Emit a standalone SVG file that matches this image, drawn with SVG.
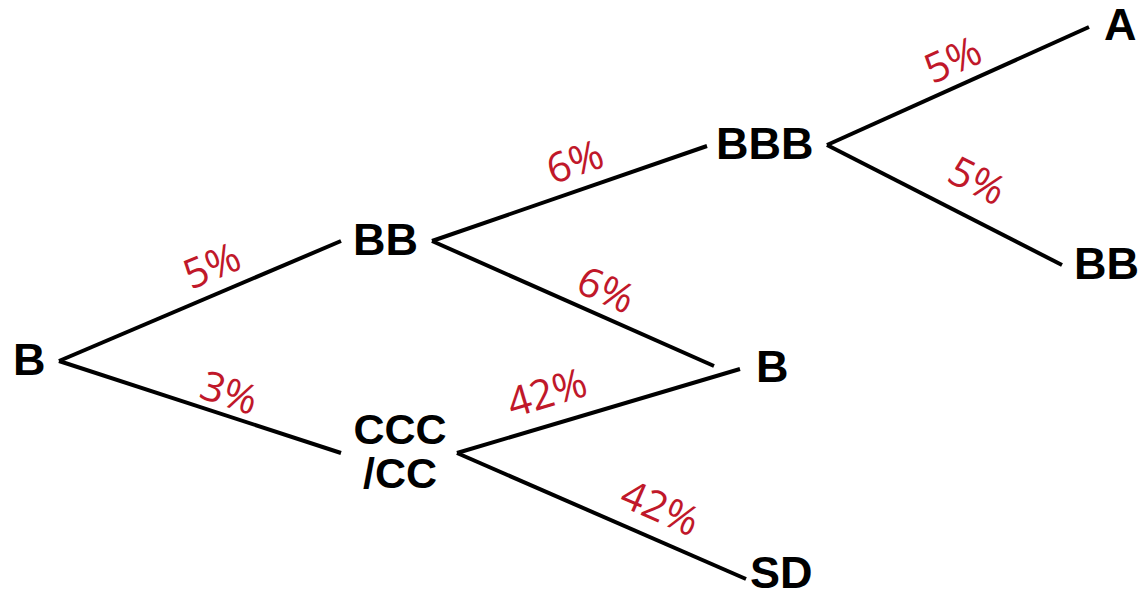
<svg xmlns="http://www.w3.org/2000/svg" width="1140" height="598" viewBox="0 0 1140 598">
<style>
.n{font-family:"Liberation Sans",Arial,sans-serif;font-weight:bold;font-size:45px;fill:#000}
.c{font-size:43px}
.p{font-family:"Open Sans","Noto Sans",sans-serif;font-size:41px;fill:#c0182a;text-anchor:middle}
.e line{stroke:#000;stroke-width:4;stroke-linecap:butt}
</style>
<rect width="1140" height="598" fill="#fff"/>
<g id="connectors" class="e">
<line x1="59" y1="361" x2="341" y2="241"/>
<line x1="59" y1="361" x2="341" y2="453"/>
<line x1="432" y1="241" x2="707" y2="146"/>
<line x1="432" y1="241" x2="714" y2="366"/>
<line x1="827" y1="145" x2="1089" y2="27"/>
<line x1="827" y1="145" x2="1062" y2="265"/>
<line x1="457" y1="453" x2="740" y2="369"/>
<line x1="457" y1="453" x2="746" y2="579"/>
</g>
<g id="labels">
<text class="p" transform="translate(212,266) rotate(-23)" y="14">5%</text>
<text class="p" transform="translate(229,393) rotate(18.3)" y="14">3%</text>
<text class="p" transform="translate(575,162) rotate(-19)" y="14">6%</text>
<text class="p" transform="translate(606,290) rotate(24)" y="14">6%</text>
<text class="p" transform="translate(953,60) rotate(-24.2)" y="14">5%</text>
<text class="p" transform="translate(977,181) rotate(27)" y="14">5%</text>
<text class="p" transform="translate(547,393) rotate(-16.5)" y="14">42%</text>
<text class="p" transform="translate(660,508) rotate(23.6)" y="14">42%</text>
</g>
<g id="node-B"><text class="n" x="13" y="375">B</text></g>
<g id="node-BB"><text class="n" x="353" y="255">BB</text></g>
<g id="node-CCC"><text class="n c" x="400" y="444" text-anchor="middle">CCC</text><text class="n c" x="400" y="488" text-anchor="middle">/CC</text></g>
<g id="node-BBB"><text class="n" x="716" y="159">BBB</text></g>
<g id="node-B2"><text class="n" x="756" y="382">B</text></g>
<g id="node-SD"><text class="n" x="750" y="588">SD</text></g>
<g id="node-A"><text class="n" x="1104" y="40">A</text></g>
<g id="node-BB2"><text class="n" x="1074" y="279">BB</text></g>
</svg>
